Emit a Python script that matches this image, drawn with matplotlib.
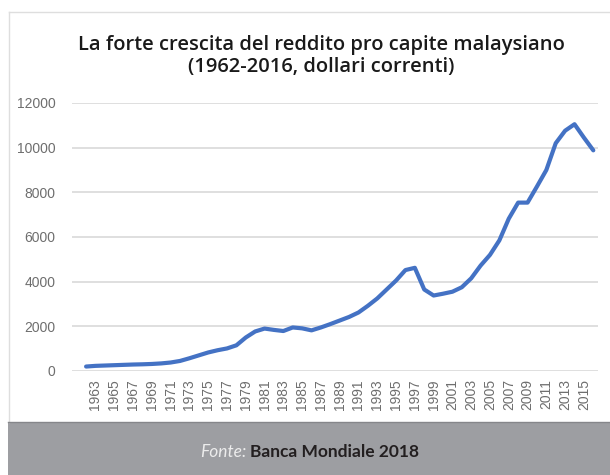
import matplotlib.pyplot as plt
from matplotlib.lines import Line2D
from matplotlib.patches import Rectangle

# Reddito pro capite della Malaysia, dollari correnti
anni = list(range(1962, 2017))
reddito = [200, 230, 245, 260, 275, 290, 300, 315, 340, 380,
           450, 570, 700, 830, 930, 1010, 1150, 1500, 1770, 1900,
           1840, 1790, 1950, 1910, 1820, 1950, 2100, 2260, 2420, 2620,
           2920, 3250, 3650, 4050, 4520, 4620, 3650, 3380, 3460, 3550,
           3750, 4150, 4720, 5200, 5850, 6820, 7540, 7540, 8260, 9000,
           10200, 10760, 11050, 10450, 9880]
etichette_anni = list(range(1963, 2016, 2))
valori_y = [0, 2000, 4000, 6000, 8000, 10000, 12000]

W, H = 610, 475
fig = plt.figure(figsize=(W / 100, H / 100), dpi=100)

# cornice grigia chiara e fascia della fonte
fig.add_artist(Line2D([9 / W, 9 / W], [1 - 12 / H, 53 / H],
                      transform=fig.transFigure, color='#dedede', lw=1))
fig.add_artist(Line2D([9 / W, 1], [1 - 12 / H, 1 - 12 / H],
                      transform=fig.transFigure, color='#dedede', lw=1))
fig.add_artist(Rectangle((8 / W, 0), 1, 53 / H, transform=fig.transFigure,
                         facecolor='#9d9ea2', edgecolor='none'))
fig.add_artist(Line2D([8 / W, 1], [53 / H, 53 / H],
                      transform=fig.transFigure, color='#85868a', lw=1))

ax = fig.add_axes([72 / W, (H - 371) / H, 526 / W, 268 / H])
ax.plot(anni, reddito, color='#4472c4', lw=3.0, solid_joinstyle='round',
        solid_capstyle='round', zorder=3)

ax.set_xlim(1960.5, 2016.5)
ax.set_ylim(0, 12000)
ax.set_yticks(valori_y)
ax.set_yticklabels([str(v) for v in valori_y])
ax.set_xticks(etichette_anni)
ax.set_xticklabels([str(a) for a in etichette_anni], rotation=90)
ax.tick_params(length=0, labelsize=10, labelcolor='#6e6e6e')
for lab in ax.get_xticklabels() + ax.get_yticklabels():
    lab.set_fontfamily('Liberation Sans')
ax.tick_params(axis='y', pad=12)
ax.tick_params(axis='x', pad=6)

ax.grid(axis='y', color='#d9d9d9', lw=1.2)
ax.set_axisbelow(True)
for s in ax.spines.values():
    s.set_visible(False)

fig.text(321 / W, 1 - 56 / H,
         'La forte crescita del reddito pro capite malaysiano\n(1962-2016, dollari correnti)',
         ha='center', va='center', fontsize=14.5, family='Open Sans',
         weight='semibold', color='#1a1a1a', linespacing=1.1)

fig.text(247 / W, 1 - 452 / H, 'Fonte:', ha='right', va='center',
         fontsize=12.5, style='italic', family='Lato', color='#ececec')
fig.text(250 / W, 1 - 452 / H, 'Banca Mondiale 2018', ha='left', va='center',
         fontsize=12.5, weight='bold', family='Lato', color='#231f20')

fig.savefig('out.png', dpi=100)
